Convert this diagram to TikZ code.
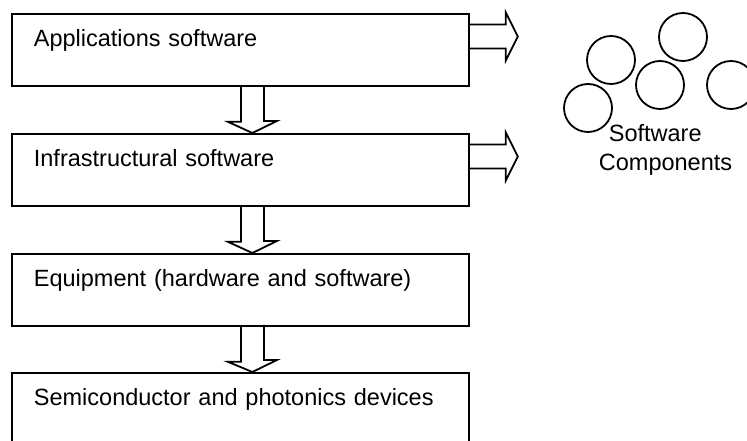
\documentclass[tikz,border=0pt]{standalone}
\usepackage{fontspec}
\setmainfont{Liberation Sans}
\usetikzlibrary{calc}

\tikzset{
  every picture/.style={line width=1.8bp},
  layer/.style={draw, rectangle, anchor=north west, align=left,
    minimum width=457bp, text width=413bp, inner xsep=22bp, inner ysep=0bp,
    text height=32.5bp, text depth=39.5bp,
    font=\fontsize{23.5bp}{29bp}\selectfont},
  arrowline/.style={draw, line join=miter},
  comp/.style={draw, circle, minimum size=48bp, inner sep=0bp},
  caption/.style={anchor=base west, align=left, inner sep=0bp,
    font=\fontsize{23.5bp}{29bp}\selectfont},
}

% hollow block arrow from the bottom of one layer to the top of the next
\newcommand\downblock[2]{%
  \draw[arrowline] ($(#1.south)+(0.5,0)$) -- ++(0,35) -- ++(-13,0)
    -- ($(#2.north)+(12,0)$) -- ++(24.5,-12) -- ++(-13,0) -- ++(0,-35);}
% hollow block arrow leaving the right side of a layer
\newcommand\rightblock[1]{%
  \draw[arrowline] ($(#1.north east)+(0,11.5)$) -- ++(36,0) -- ++(0,-12)
    -- ++(12,24) -- ++(-12,24) -- ++(0,-12) -- ++(-36,0);}

\begin{document}
\begin{tikzpicture}[x=1bp, y=-1bp]
  \fill[white] (0,0) rectangle (747,441);
  \useasboundingbox (0,0) rectangle (747,441);

  % the four layers
  \node[layer] (apps)  at (11,13)  {Applications software};
  \node[layer] (infra) at (11,133) {Infrastructural software};
  \node[layer] (equip) at (11,253) {Equipment (hardware and software)};
  \node[layer] (semi)  at (11,372) {Semiconductor and photonics devices};

  \downblock{apps}{infra}
  \downblock{infra}{equip}
  \downblock{equip}{semi}

  \rightblock{apps}
  \rightblock{infra}

  % software components
  \node[comp] (c1) at (611,60)  {};
  \node[comp] (c2) at (683,37)  {};
  \node[comp] (c3) at (660,85)  {};
  \node[comp] (c4) at (731,85)  {};
  \node[comp] (c5) at (588,108) {};
  \node[caption] (sc) at (598,171) {\hspace*{10bp}Software\\Components};
\end{tikzpicture}
\end{document}
